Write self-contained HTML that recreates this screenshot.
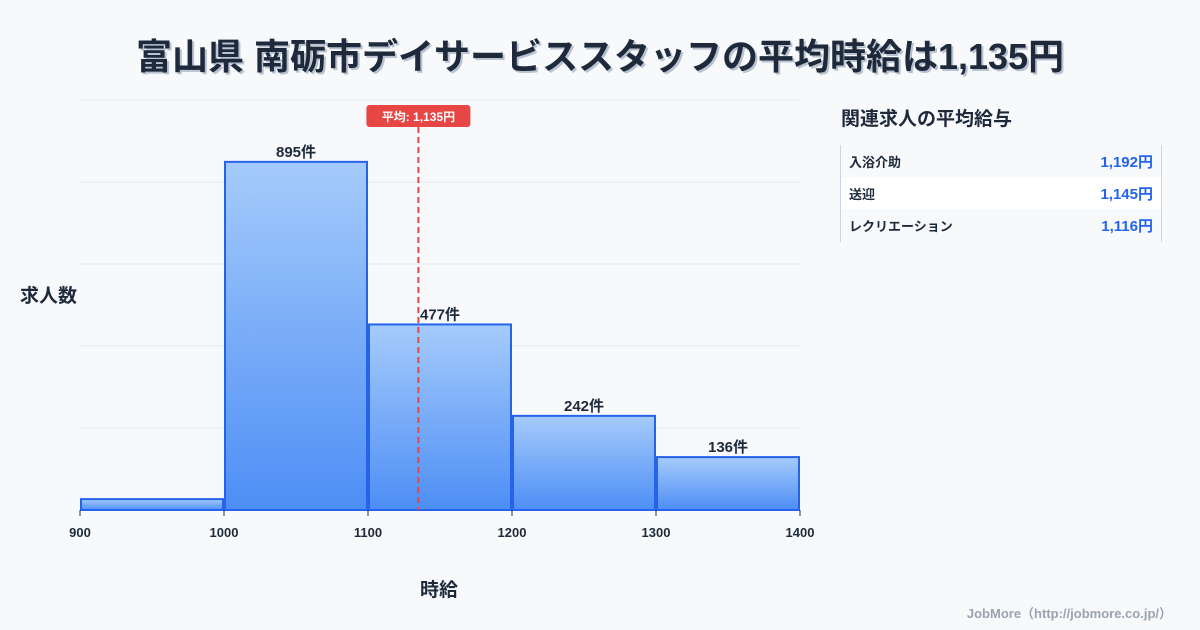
<!DOCTYPE html>
<html><head><meta charset="utf-8"><style>
body{margin:0;width:1200px;height:630px;background:#f8f9fb;font-family:"Liberation Sans","Noto Sans CJK JP",sans-serif;overflow:hidden;position:relative}
.t{position:absolute;font-weight:bold;color:#1e293b}
</style></head><body>
<div class="t" style="left:0;width:1200px;top:28px;text-align:center;font-size:36px;text-shadow:2px 2px 0 #b8c2d0">富山県 南砺市デイサービススタッフの平均時給は1,135円</div>
<svg width="1200" height="630" style="position:absolute;left:0;top:0">
<defs><linearGradient id="g" x1="0" y1="0" x2="0" y2="1"><stop offset="0" stop-color="#a5cbfb"/><stop offset="1" stop-color="#4d8ef5"/></linearGradient></defs>
<g id="grid"></g><g id="bars"></g><g id="ticks"></g><g id="mean"></g>
</svg>
<div class="t" style="left:20px;top:281px;font-size:19px">求人数</div>
<div class="t" style="left:420px;top:575px;font-size:19px">時給</div>
<div class="t" style="left:841px;top:104px;font-size:19px">関連求人の平均給与</div>
<div style="position:absolute;left:840px;top:145px;width:320px;height:97px;border-left:1px solid #cbd5e1;border-right:1px solid #cbd5e1">
<div style="height:32px;display:flex;justify-content:space-between;align-items:center;padding:0 8px;font-weight:bold;font-size:13px;color:#1e293b">入浴介助<span style="color:#2563eb;font-size:15px">1,192円</span></div>
<div style="height:32px;background:#fff;display:flex;justify-content:space-between;align-items:center;padding:0 8px;font-weight:bold;font-size:13px;color:#1e293b">送迎<span style="color:#2563eb;font-size:15px">1,145円</span></div>
<div style="height:32px;display:flex;justify-content:space-between;align-items:center;padding:0 8px;font-weight:bold;font-size:13px;color:#1e293b">レクリエーション<span style="color:#2563eb;font-size:15px">1,116円</span></div>
</div>
<div class="t" style="right:28px;top:603px;font-size:13px;color:#9aa3af">JobMore（http://jobmore.co.jp/）</div>
<script>
const binStarts=[900,1000,1100,1200,1300];
const counts=[28,895,477,242,136];
const labels=["","895件","477件","242件","136件"];
const xTicks=[900,1000,1100,1200,1300,1400];
const meanValue=1135;
const meanLabel="平均: 1,135円";
const NS="http://www.w3.org/2000/svg";
const x0=80,x1=800,y0=510,yTop=100,xmin=900,xmax=1400,ymax=1054;
const X=v=>x0+(v-xmin)/(xmax-xmin)*(x1-x0);
const Y=v=>y0-v/ymax*(y0-yTop);
function mk(t,a,p){const e=document.createElementNS(NS,t);for(const k in a)e.setAttribute(k,a[k]);p.appendChild(e);return e;}
const grid=document.getElementById('grid');
for(let i=0;i<=5;i++){const y=yTop+i*(y0-yTop)/5;const l=mk('line',{x1:x0,x2:x1,y1:y,y2:y,stroke:'#e3e7ec'},grid);

}
const bars=document.getElementById('bars');
binStarts.forEach((s,i)=>{const xa=X(s)+1,xb=X(s+100)-1,y=Y(counts[i]);
const r=mk('rect',{x:xa,y:y,width:xb-xa,height:y0-y,fill:'url(#g)',stroke:'#2563eb','stroke-width':2},bars);


if(labels[i]){const t=mk('text',{x:(xa+xb)/2,y:y-5,'text-anchor':'middle','font-size':15,'font-weight':'bold',fill:'#1e293b'},bars);t.textContent=labels[i];

}});
const tk=document.getElementById('ticks');
xTicks.forEach(v=>{mk('line',{x1:X(v),x2:X(v),y1:y0,y2:y0+6,stroke:'#333'},tk);
const t=mk('text',{x:X(v),y:537,'text-anchor':'middle','font-size':13,'font-weight':'bold',fill:'#1e293b'},tk);t.textContent=v;

});
const m=document.getElementById('mean');const mx=X(meanValue);
const ml=mk('line',{x1:mx,x2:mx,y1:127,y2:y0,stroke:'#e04848','stroke-width':2,'stroke-dasharray':'6,4'},m);


const mr=mk('rect',{x:mx-52,y:105,width:104,height:22,rx:3,fill:'#e84545'},m);


const mt=mk('text',{x:mx,y:121,'text-anchor':'middle','font-size':12,'font-weight':'bold',fill:'#fff'},m);mt.textContent=meanLabel;


</script>
</body></html>
